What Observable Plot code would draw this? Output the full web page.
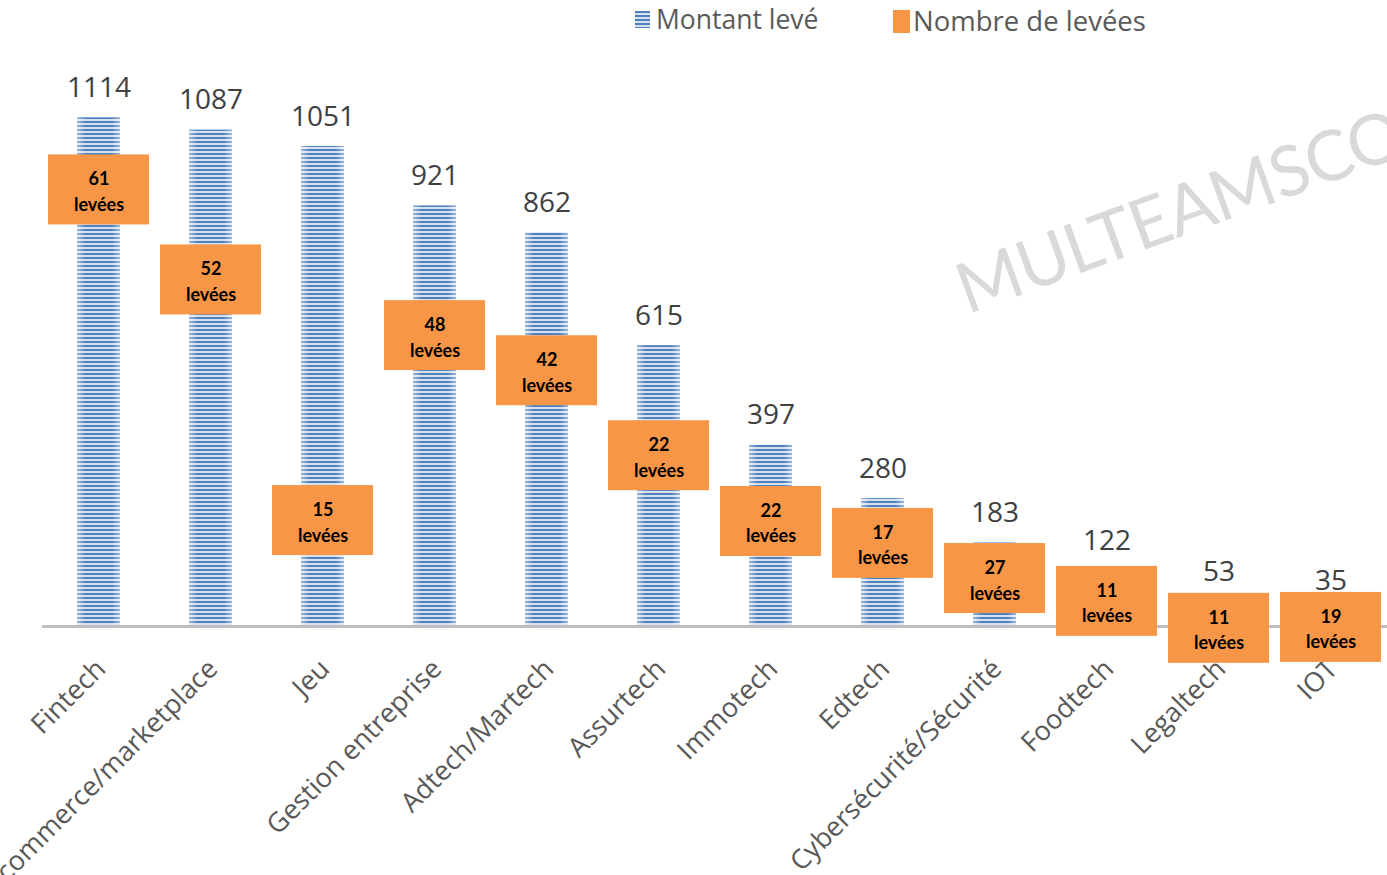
<!DOCTYPE html>
<html>
<head>
<meta charset="utf-8">
<script src="https://cdn.jsdelivr.net/npm/d3@7"></script>
<script src="https://cdn.jsdelivr.net/npm/@observablehq/plot@0.6"></script>
<style>
  html, body { margin: 0; padding: 0; background: #fff; overflow: hidden; }
  #wrap { position: relative; width: 1387px; height: 875px; overflow: hidden; }
  #legend { position: relative; width: 1387px; height: 45px; }
  #legend span { position: absolute; }
  .lt { font-family: "Open Sans", sans-serif; color: #595959; white-space: nowrap; }
  #watermark { position: absolute; left: 970px; top: 252px; font-family: "Lato", sans-serif; font-weight: 400; font-size: 70px; letter-spacing: -1px; line-height: 1; color: #d9d9d9; transform: rotate(-20deg); transform-origin: 0 100%; white-space: nowrap; pointer-events: none; }
</style>
</head>
<body>
<div id="wrap">
  <div id="legend">
    <span style="left:635px;top:11px;width:15px;height:17px;background:repeating-linear-gradient(#4f81bd 0 2px,#d5e1f0 2px 4px)"></span>
    <span class="lt" style="left:656px;top:1px;font-size:26.5px">Montant levé</span>
    <span style="left:893px;top:10px;width:17px;height:23px;background:#f79646"></span>
    <span class="lt" style="left:913px;top:2px;font-size:27.5px">Nombre de levées</span>
  </div>
  <div id="chart"></div>
  <div id="watermark">MULTEAMSCO</div>
</div>
<script>
const categories = ["Fintech","E-commerce/marketplace","Jeu","Gestion entreprise","Adtech/Martech","Assurtech","Immotech","Edtech","Cybersécurité/Sécurité","Foodtech","Legaltech","IOT"];
const montant = [1114,1087,1051,921,862,615,397,280,183,122,53,35];
const nombre = [61,52,15,48,42,22,22,17,27,11,11,19];
// where each "levées" label box sits, in units of the amount axis
const labelAnchor = [956,759,232,637,560,374,230,182,105,55,-4,-2];

const data = categories.map((c, i) => ({cat: c, montant: montant[i], nombre: nombre[i], anchor: labelAnchor[i]}));
const boxHalf = 76.6; // half box height in axis units

const chart = Plot.plot({
  width: 1387,
  height: 830,
  marginLeft: 42,
  marginRight: 0,
  marginTop: 33,
  marginBottom: 249,
  style: {background: "transparent", overflow: "visible"},
  x: {domain: categories, paddingInner: 0.617, paddingOuter: 0.29, axis: null},
  y: {domain: [0, 1200], axis: null},
  marks: [
    Plot.barY(data, {x: "cat", y: "montant", fill: "url(#stripes)"}),
    Plot.barY(data, {x: "cat", y: "montant", fill: "url(#edge)"}),
    Plot.ruleY([0], {stroke: "#bfbfbf", strokeWidth: 3}),
    Plot.text(data, {x: "cat", y: 0, text: "cat", rotate: -45, textAnchor: "end", lineAnchor: "middle", dx: 2, dy: 38, fontSize: 27, fontFamily: "Open Sans", fill: "#595959"}),
    Plot.barY(data, {x: "cat", y1: d => d.anchor - boxHalf, y2: d => d.anchor + boxHalf, fill: "#f79646", insetLeft: -29, insetRight: -29}),
    Plot.text(data, {x: "cat", y: "anchor", text: d => `${d.nombre}\nlevées`, fontSize: 18, fontWeight: "bold", fontFamily: "Lato", lineHeight: 1.42, fill: "#000"}),
    Plot.text(data, {x: "cat", y: "montant", text: d => String(d.montant), lineAnchor: "bottom", dy: -21, fontSize: 28, fontFamily: "Open Sans", fill: "#404040"})
  ]
});

const ns = "http://www.w3.org/2000/svg";
const defs = document.createElementNS(ns, "defs");
const pat = document.createElementNS(ns, "pattern");
pat.setAttribute("id", "stripes");
pat.setAttribute("patternUnits", "userSpaceOnUse");
pat.setAttribute("width", "4");
pat.setAttribute("height", "4");
[["0", "#4f81bd"], ["2", "#d5e1f0"]].forEach(([y, f]) => {
  const r = document.createElementNS(ns, "rect");
  r.setAttribute("x", "0"); r.setAttribute("y", y);
  r.setAttribute("width", "4"); r.setAttribute("height", "2");
  r.setAttribute("fill", f);
  pat.appendChild(r);
});
defs.appendChild(pat);
const grad = document.createElementNS(ns, "linearGradient");
grad.setAttribute("id", "edge");
grad.setAttribute("x1", "0"); grad.setAttribute("x2", "1"); grad.setAttribute("y1", "0"); grad.setAttribute("y2", "0");
[["0", 0.45], ["0.2", 0], ["0.8", 0], ["1", 0.45]].forEach(([o, a]) => {
  const s = document.createElementNS(ns, "stop");
  s.setAttribute("offset", o);
  s.setAttribute("stop-color", "#ffffff");
  s.setAttribute("stop-opacity", a);
  grad.appendChild(s);
});
defs.appendChild(grad);
chart.insertBefore(defs, chart.firstChild);
document.getElementById("chart").appendChild(chart);
</script>
</body>
</html>
